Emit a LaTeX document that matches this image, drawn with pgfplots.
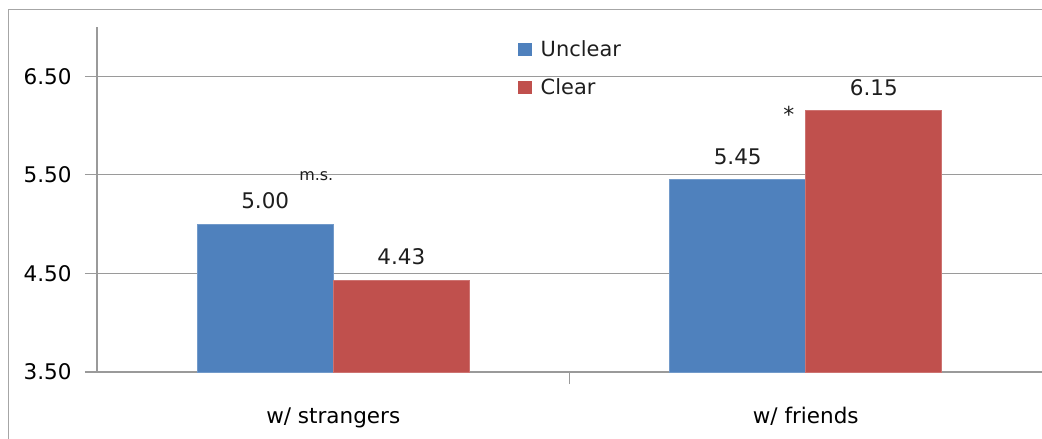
\documentclass[border=0pt]{standalone}
\usepackage{fontspec}
\setmainfont{DejaVu Sans}
\usepackage{pgfplots}
\pgfplotsset{compat=1.18}

\definecolor{barblue}{HTML}{4F81BD}
\definecolor{barred}{HTML}{C0504D}
\definecolor{gridgray}{HTML}{9A9A9A}
\definecolor{framegray}{HTML}{A6A6A6}
\definecolor{labeltext}{HTML}{1E1E1E}

\begin{document}
\begin{tikzpicture}
\useasboundingbox (0,0) rectangle (521bp,-219.5bp);
\clip (0,0) rectangle (521bp,-219.5bp);
% outer chart frame
\draw[framegray, line width=0.8bp] (4.25bp,-4.75bp) rectangle (560bp,-260bp);
\begin{axis}[
  at={(48.5bp,-186bp)}, anchor=south west,
  scale only axis, width=472.5bp, height=172.5bp,
  xmin=-0.5, xmax=1.5, ymin=3.5, ymax=7,
  ybar=0pt, bar width=0.288,
  axis x line*=bottom, axis y line*=left,
  axis line style={gridgray, line width=0.6bp},
  /pgf/number format/assume math mode=true,
  font=\fontsize{10.8}{13}\selectfont,
  ytick={3.5,4.5,5.5,6.5},
  yticklabels={3.50,4.50,5.50,6.50},
  ymajorgrids, grid style={gridgray, line width=0.6bp},
  tick align=outside, major tick length=6bp,
  tick style={gridgray, line width=0.6bp},
  xtick={0.5}, xticklabels={},
  extra x ticks={0,1},
  extra x tick labels={w/ strangers, w/ friends},
  extra x tick style={major tick length=0pt, grid=none},
  yticklabel style={anchor=east, inner sep=0pt, xshift=-6.5bp, text=black},
  xticklabel style={anchor=base, inner sep=0pt, yshift=-25.5bp, text=black},
  nodes near coords={\pgfmathprintnumber[fixed,precision=2,fixed zerofill]{\pgfplotspointmeta}},
  every node near coord/.append style={anchor=south, inner sep=0pt, yshift=7.5bp,
    text=labeltext, font=\fontsize{10.8}{13}\selectfont},
  legend style={draw=none, fill=none, inner sep=0pt, at={(0.445,0.962)}, anchor=north west,
    nodes={inner sep=0pt, text=labeltext}, row sep=9.75bp, column sep=4.5bp,
    font=\fontsize{10.5}{12}\selectfont},
  legend cell align=left,
]
\addplot[fill=barblue, draw=barblue!80!white, line width=0.4bp,
  legend image code/.code={\fill[barblue] (0bp,-2.7bp) rectangle (6.5bp,3.3bp);}]
  coordinates {(0,5.00) (1,5.45)};
\addplot[fill=barred, draw=barred!80!white, line width=0.4bp,
  legend image code/.code={\fill[barred] (0bp,-2.7bp) rectangle (6.5bp,3.3bp);}]
  coordinates {(0,4.43) (1,6.15)};
\legend{Unclear, Clear}
% significance marks
\node[anchor=base, inner sep=0pt, text=labeltext, font=\fontsize{8}{9}\selectfont]
  at (axis cs:-0.036,5.439) {m.s.};
\node[anchor=base, inner sep=0pt, text=labeltext, font=\fontsize{11}{12}\selectfont]
  at (axis cs:0.964,6.035) {*};
\end{axis}
\end{tikzpicture}
\end{document}
